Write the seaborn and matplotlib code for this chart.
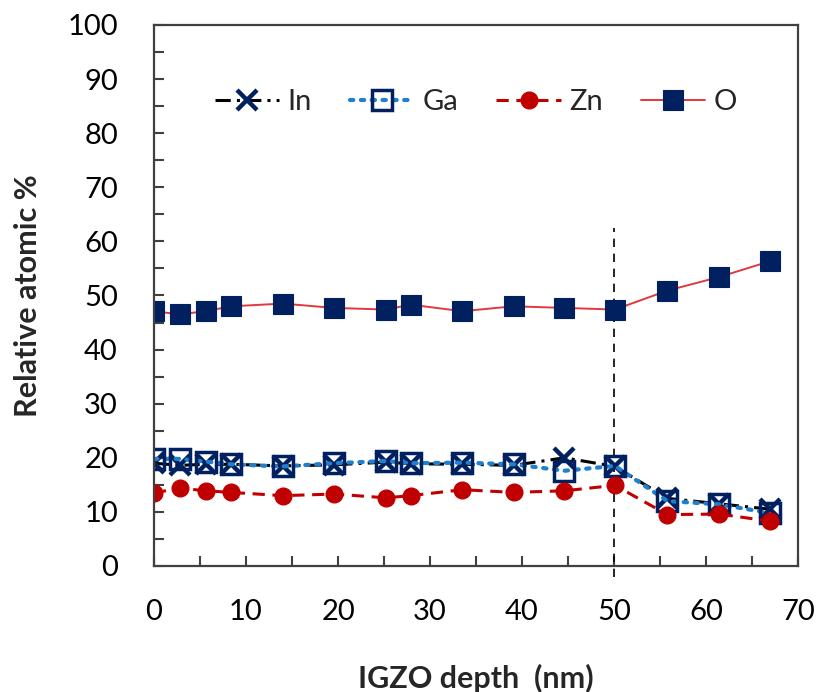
import matplotlib
matplotlib.use("Agg")
import matplotlib.pyplot as plt
import seaborn as sns
import pandas as pd
from matplotlib.ticker import MultipleLocator

sns.set_theme(style="white")
plt.rcParams['font.family'] = ['Lato', 'DejaVu Sans']

depth = [0, 2.8, 5.6, 8.4, 14.0, 19.6, 25.2, 27.9, 33.5, 39.1, 44.6, 50.1, 55.8, 61.4, 66.9]
in_vals = [19.0, 18.6, 18.8, 18.8, 18.5, 18.7, 19.2, 18.9, 18.8, 18.6, 20.0, 18.4, 12.5, 11.5, 10.5]
ga_vals = [19.8, 19.8, 19.3, 18.8, 18.4, 19.0, 19.4, 19.0, 19.1, 18.8, 17.6, 18.5, 12.0, 11.4, 9.8]
zn_vals = [13.5, 14.4, 13.9, 13.6, 13.0, 13.3, 12.6, 13.0, 14.1, 13.6, 13.9, 14.9, 9.5, 9.6, 8.3]
o_vals = [47.1, 46.5, 47.1, 48.0, 48.5, 47.7, 47.4, 48.3, 47.1, 48.0, 47.7, 47.4, 50.9, 53.4, 56.3]

df = pd.DataFrame({"depth": depth, "In": in_vals, "Ga": ga_vals, "Zn": zn_vals, "O": o_vals})

fig = plt.figure(figsize=(8.2, 6.92), dpi=100)
ax = fig.add_axes([0.1878, 0.1821, 0.9732 - 0.1878, 0.9639 - 0.1821])

navy = "#002060"
sns.lineplot(data=df, x="depth", y="In", ax=ax, color="black", linestyle=(0, (5, 2, 1, 2)),
             linewidth=2.2, marker="x", markersize=14, markeredgewidth=3.2,
             markeredgecolor=navy, markerfacecolor=navy, label="In", sort=False)
sns.lineplot(data=df, x="depth", y="Ga", ax=ax, color="#2080D0", linestyle=(0, (0.8, 1.8)),
             dash_capstyle="round", linewidth=3, marker="s", markersize=15,
             markeredgewidth=2.5, markeredgecolor=navy, markerfacecolor="none",
             label="Ga", sort=False)
sns.lineplot(data=df, x="depth", y="Zn", ax=ax, color="#C00000", linestyle=(0, (4, 2.5)),
             linewidth=2.2, marker="o", markersize=12, markeredgewidth=1,
             markeredgecolor="#C00000", markerfacecolor="#C00000", label="Zn", sort=False)
sns.lineplot(data=df, x="depth", y="O", ax=ax, color="#E0393E", linestyle="-",
             linewidth=1.4, marker="s", markersize=14, markeredgewidth=0.8,
             markeredgecolor=navy, markerfacecolor=navy, label="O", sort=False)

ax.plot([50, 50], [-2, 62.5], color="black", linestyle=(0, (5, 4)), linewidth=1.2,
        clip_on=False, zorder=1)

ax.set_xlim(0, 70)
ax.set_ylim(0, 100)
ax.xaxis.set_major_locator(MultipleLocator(10))
ax.xaxis.set_minor_locator(MultipleLocator(5))
ax.yaxis.set_major_locator(MultipleLocator(10))
ax.yaxis.set_minor_locator(MultipleLocator(5))
ax.tick_params(which="both", direction="in", length=7, width=1.5, color="#404040",
               bottom=True, left=True, top=False, right=False)
ax.tick_params(axis="x", which="major", pad=24, labelsize=21, labelcolor="black")
ax.tick_params(axis="y", which="major", pad=26, labelsize=21, labelcolor="black")

for s in ax.spines.values():
    s.set_visible(True)
    s.set_color("#404040")
    s.set_linewidth(1.6)

ax.set_xlabel("IGZO depth  (nm)", fontsize=22, fontweight="bold", labelpad=28)
ax.set_ylabel("Relative atomic %", fontsize=22, fontweight="bold", labelpad=18)

leg = ax.legend(loc="upper center", bbox_to_anchor=(0.5, 0.93), ncol=4, frameon=False,
                fontsize=21, handlelength=2.2, columnspacing=1.3, handletextpad=0.3)

fig.savefig("out.png", dpi=100)
